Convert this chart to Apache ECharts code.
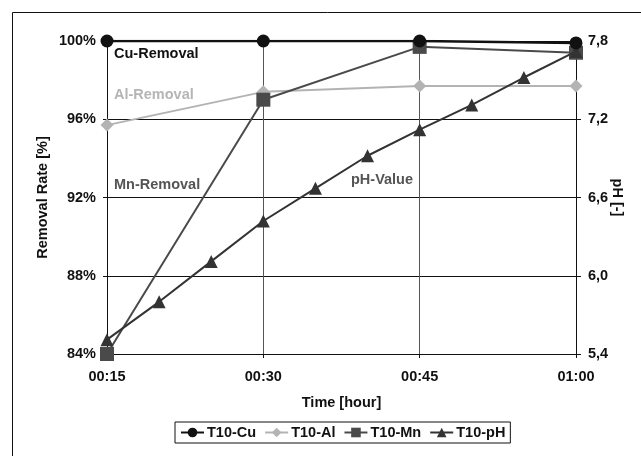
<!DOCTYPE html>
<html><head><meta charset="utf-8">
<script src="https://cdn.jsdelivr.net/npm/echarts@6/dist/echarts.min.js"></script>
<style>html,body{margin:0;padding:0;background:#fff}#c{width:641px;height:456px}</style>
</head><body><div id="c"></div>
<script>
// Data (time in minutes)
const timeMain = [15, 30, 45, 60];
const timePH = [15, 20, 25, 30, 35, 40, 45, 50, 55, 60];
const cuRemoval = [100, 100, 100, 99.9];
const alRemoval = [95.7, 97.4, 97.7, 97.7];
const mnRemoval = [84.0, 97.0, 99.7, 99.4];
const phValue = [5.51, 5.8, 6.11, 6.42, 6.67, 6.92, 7.12, 7.31, 7.52, 7.72];
const xTickLabels = {15: '00:15', 30: '00:30', 45: '00:45', 60: '01:00'};

const FONT = 'Liberation Sans, Arial, sans-serif';
const FS = 14.5;
const pair = (xs, ys) => xs.map((x, i) => [x, ys[i]]);

const chart = echarts.init(document.getElementById('c'), null, {renderer: 'canvas'});
const txt = {fontFamily: FONT, fontWeight: 'bold', fontSize: FS, color: '#111'};
chart.setOption({
  animation: false,
  backgroundColor: '#fff',
  grid: {left: 107, right: 65, top: 41, bottom: 102, containLabel: false, outerBoundsMode: 'none'},
  xAxis: {
    type: 'value', min: 15, max: 60, interval: 15,
    name: 'Time [hour]', nameLocation: 'middle', nameGap: 41,
    nameTextStyle: Object.assign({}, txt),
    axisLine: {show: true, lineStyle: {color: '#111', width: 1}},
    axisTick: {show: true, length: 4, lineStyle: {color: '#111'}},
    axisLabel: Object.assign({}, txt, {margin: 15, formatter: v => xTickLabels[v] || ''}),
    splitLine: {show: true, lineStyle: {color: '#555', width: 1}}
  },
  yAxis: [{
    type: 'value', min: 84, max: 100, interval: 4,
    name: 'Removal Rate [%]', nameLocation: 'middle', nameGap: 57, nameRotate: 90,
    nameMoveOverlap: false,
    nameTextStyle: Object.assign({}, txt),
    axisLine: {show: true, lineStyle: {color: '#111', width: 1}},
    axisTick: {show: true, length: 4, lineStyle: {color: '#111'}},
    axisLabel: Object.assign({}, txt, {margin: 11, formatter: v => v + '%'}),
    splitLine: {show: true, lineStyle: {color: '#111', width: 1}}
  }, {
    type: 'value', min: 5.4, max: 7.8, interval: 0.6, position: 'right',
    name: 'pH [-]', nameLocation: 'middle', nameGap: 33, nameRotate: -90,
    nameMoveOverlap: false,
    nameTextStyle: Object.assign({}, txt),
    axisLine: {show: true, lineStyle: {color: '#111', width: 1}},
    axisTick: {show: true, length: 5, lineStyle: {color: '#111'}},
    axisLabel: Object.assign({}, txt, {margin: 12, formatter: v => v.toFixed(1).replace('.', ',')}),
    splitLine: {show: false}
  }],
  legend: {
    left: 175, top: 422,
    padding: [3, 5], itemGap: 8, itemWidth: 23, itemHeight: 12,
    borderColor: '#111', borderWidth: 1,
    textStyle: Object.assign({}, txt, {padding: [0, 0, 0, -2]}),
    data: ['T10-Cu', 'T10-Al', 'T10-Mn', 'T10-pH']
  },
  series: [
    {name: 'T10-Mn', type: 'line', data: pair(timeMain, mnRemoval), z: 3,
     symbol: 'rect', symbolSize: 14, lineStyle: {color: '#4a4a4a', width: 2},
     itemStyle: {color: '#4a4a4a'}},
    {name: 'T10-Al', type: 'line', data: pair(timeMain, alRemoval), z: 2,
     symbol: 'diamond', symbolSize: 13, lineStyle: {color: '#b3b3b3', width: 2},
     itemStyle: {color: '#b3b3b3'}},
    {name: 'T10-pH', type: 'line', yAxisIndex: 1, data: pair(timePH, phValue), z: 4,
     symbol: 'triangle', symbolSize: 13, lineStyle: {color: '#333', width: 2},
     itemStyle: {color: '#333'}},
    {name: 'T10-Cu', type: 'line', data: pair(timeMain, cuRemoval), z: 5,
     symbol: 'circle', symbolSize: 13, lineStyle: {color: '#111', width: 2.5},
     itemStyle: {color: '#111'}}
  ],
  graphic: [
    {type: 'rect', shape: {x: 12.5, y: 12.5, width: 700, height: 700}, z: -10, silent: true,
     style: {fill: null, stroke: '#111', lineWidth: 1}},
    {type: 'text', left: 114, top: 46, z: 10, style: {text: 'Cu-Removal', fill: '#111', font: 'bold ' + FS + 'px ' + FONT}},
    {type: 'text', left: 114, top: 87, z: 10, style: {text: 'Al-Removal', fill: '#b5b5b5', font: 'bold ' + FS + 'px ' + FONT}},
    {type: 'text', left: 114, top: 177, z: 10, style: {text: 'Mn-Removal', fill: '#555', font: 'bold ' + FS + 'px ' + FONT}},
    {type: 'text', left: 351, top: 172, z: 10, style: {text: 'pH-Value', fill: '#555', font: 'bold ' + FS + 'px ' + FONT}}
  ]
});
</script></body></html>
